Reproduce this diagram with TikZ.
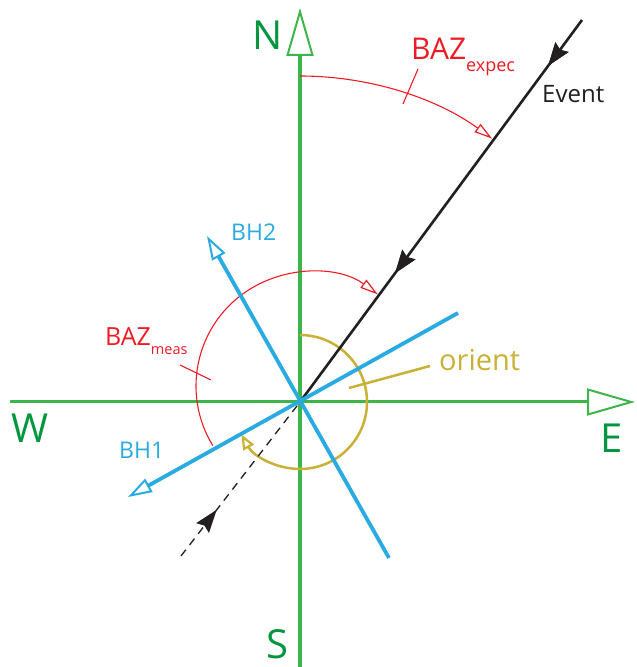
\documentclass[tikz,border=0pt]{standalone}
\usepackage{fontspec}
\setmainfont{Open Sans}
\usetikzlibrary{arrows.meta,decorations.markings}

\definecolor{axisgreen}{RGB}{61,181,74}
\definecolor{labelgreen}{RGB}{0,150,64}
\definecolor{azred}{RGB}{237,28,36}
\definecolor{bhblue}{RGB}{41,171,226}
\definecolor{orientyellow}{RGB}{201,176,55}
\definecolor{eventblack}{RGB}{35,31,32}

\newcommand{\fsz}[1]{\fontsize{#1}{#1}\selectfont}

\begin{document}
\begin{tikzpicture}[
  x=1pt, y=1pt,
  axis/.style={draw=axisgreen, line width=3.5pt,
    -{Triangle[open, length=48pt, width=27pt, line width=2pt]}},
  compass/.style={text=labelgreen, font=\fsz{40}, anchor=base west, inner sep=0pt},
  bh/.style={draw=bhblue, line width=3.8pt,
    -{Triangle[open, length=24pt, width=15pt, line width=2pt]}},
  bhlbl/.style={text=bhblue, font=\fsz{23}, anchor=base west, inner sep=0pt},
  baz/.style={draw=azred, line width=1.1pt,
    -{Triangle[open, length=18pt, width=10pt, line width=1.2pt]}},
  tick/.style={draw=azred, line width=1.1pt},
  orient/.style={draw=orientyellow, line width=2.5pt},
  evarrow/.style={decoration={markings, mark=at position #1 with
    {\arrow{Stealth[length=23pt, width=16pt, inset=3pt]}}}, postaction={decorate}}
]
  \useasboundingbox (0,0) rectangle (637,667);

  % reference points
  \coordinate (O) at (300,265);
  \coordinate (Ntip) at (300,659);
  \coordinate (Sbot) at (300,0);
  \coordinate (Wend) at (10,265);
  \coordinate (Etip) at (635,265);
  \coordinate (evtop) at (582,647);
  \coordinate (evbot) at (181,111);
  \coordinate (bhtwo) at (207,431);
  \coordinate (bhtwoend) at (389,109);
  \coordinate (bhone) at (128,170);
  \coordinate (bhoneend) at (458,354);

  % compass axes
  \draw[axis, line width=3pt] (Wend) -- (Etip);
  \draw[axis] (Sbot) -- (Ntip);
  \node[compass] (N) at (252,617) {N};
  \node[compass] (W) at (11,224) {W};
  \node[compass] (E) at (600,214) {E};
  \node[compass] (S) at (266,9) {S};

  % expected back azimuth
  \draw[baz] (300,591) arc[start angle=90, end angle=53.9, radius=326];
  \draw[tick] (418,598) -- (403,563);
  \node[text=azred, font=\fsz{30}, anchor=base west, inner sep=0pt] (bazexpec) at (411,607)
    {BAZ\raisebox{-12pt}{\fsz{18}expec}};

  % measured back azimuth
  \draw[baz] (212.8,221.4) arc[start angle=211.5, end angle=53.5, radius=114];
  \draw[tick] (180,302) -- (211,287);
  \node[text=azred, font=\fsz{25}, anchor=base west, inner sep=0pt] (bazmeas) at (105,321)
    {BAZ\raisebox{-9pt}{\fsz{14.5}meas}};

  % sensor orientation
  \draw[orient, -{Triangle[open, length=15pt, width=12pt, line width=2.2pt]}]
    (300,332) arc[start angle=90, end angle=-151, radius=67];
  \draw[orient] (349,279) -- (430,301);
  \node[text=orientyellow, font=\fsz{29}, anchor=base west, inner sep=0pt] (orientlbl) at (439,296) {orient};

  % event ray
  \draw[eventblack, line width=2.6pt, evarrow=0.12, evarrow=0.663] (evtop) -- (O);
  \draw[eventblack, line width=1.3pt, dash pattern=on 8pt off 6pt, evarrow=0.3] (evbot) -- (O);
  \node[text=eventblack, font=\fsz{24}, anchor=base west, inner sep=0pt] (event) at (542,564) {Event};

  % horizontal components
  \draw[bh] (bhtwoend) -- (bhtwo);
  \draw[bh] (bhoneend) -- (bhone);
  \node[bhlbl] (bhtwolbl) at (231,426) {BH2};
  \node[bhlbl] (bhonelbl) at (119,208) {BH1};
\end{tikzpicture}
\end{document}
